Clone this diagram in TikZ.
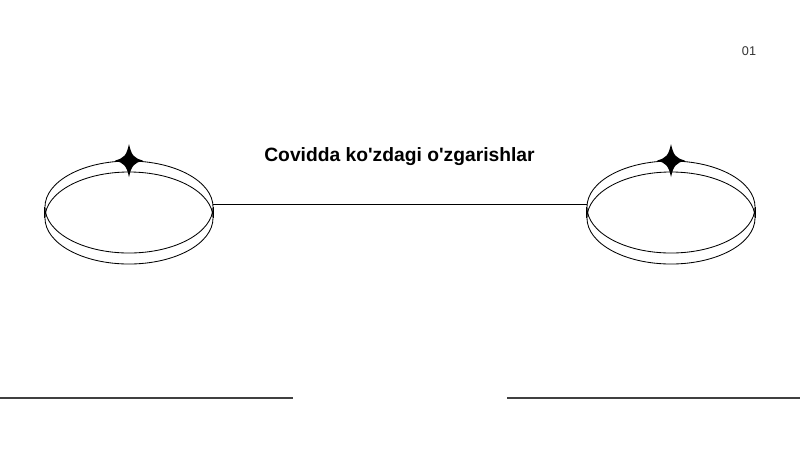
\documentclass[tikz,border=0pt]{standalone}
\usepackage{fontspec}
\newfontfamily\slidefont{Liberation Sans}
\usetikzlibrary{shapes.geometric}
\tikzset{
  ring/.style={draw, ellipse, line width=0.6pt, minimum width=4.2cm, minimum height=2.3cm, inner sep=0pt},
  rule/.style={draw=black!75, line width=0.9pt}
}
\newcommand{\sparkle}[1]{%
  \fill[shift={(#1)}] (0,-16.5) .. controls (2.5,-5) and (5,-2.5) .. (14,0)
    .. controls (5,2.5) and (2.5,5) .. (0,16.5)
    .. controls (-2.5,5) and (-5,2.5) .. (-14,0)
    .. controls (-5,-2.5) and (-2.5,-5) .. (0,-16.5) -- cycle;}
\begin{document}
\begin{tikzpicture}[x=0.025cm, y=-0.025cm] % pixel units, y down
        \useasboundingbox (0,0) rectangle (800,450);
        % page number and title
        \node[font=\slidefont\fontsize{9}{11}\selectfont, text=black!80] (num) at (749,51) {01};
        \node[font=\slidefont\bfseries\fontsize{13.7}{16}\selectfont] (title) at (399.5,157) {Covidda ko'zdagi o'zgarishlar};

        % left ring
        \node[ring] (lefttop) at (129,207) {};
        \node[ring] (leftbot) at (129,218) {};
        \draw[line width=0.6pt] (lefttop.west) -- (leftbot.west);
        \draw[line width=0.6pt] (lefttop.east) -- (leftbot.east);
        \sparkle{lefttop.north}

        % right ring
        \node[ring] (righttop) at (671,207) {};
        \node[ring] (rightbot) at (671,218) {};
        \draw[line width=0.6pt] (righttop.west) -- (rightbot.west);
        \draw[line width=0.6pt] (righttop.east) -- (rightbot.east);
        \sparkle{righttop.north}

        % connector
        \draw[line width=0.6pt] ([yshift=0.075cm]lefttop.east) -- ([yshift=0.075cm]righttop.west);

        % bottom rules
        \coordinate (bl0) at (0,398);
        \coordinate (bl1) at (293,398);
        \coordinate (br0) at (507,398);
        \coordinate (br1) at (800,398);
        \draw[rule] (bl0) -- (bl1);
        \draw[rule] (br0) -- (br1);
\end{tikzpicture}
\end{document}
